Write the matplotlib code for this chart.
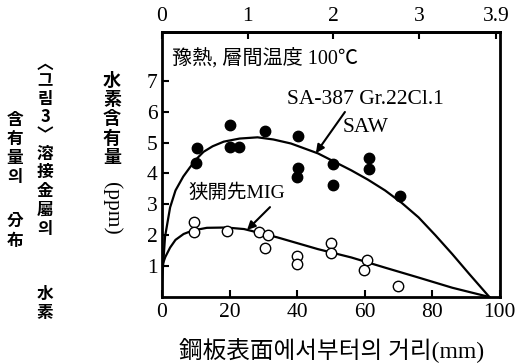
import matplotlib
matplotlib.use("Agg")
import matplotlib.pyplot as plt

# ---------------- data ----------------
saw_x = [10.4, 10.1, 20.0, 20.0, 22.8, 30.5, 40.4, 40.2, 39.9, 50.6, 50.6, 61.3, 61.3, 70.5]
saw_y = [4.81, 4.34, 5.57, 4.86, 4.86, 5.38, 5.21, 4.18, 3.89, 4.30, 3.62, 4.50, 4.13, 3.26]

mig_x = [9.6, 9.6, 19.3, 28.6, 31.5, 30.5, 39.9, 39.9, 50.1, 50.1, 60.6, 59.8, 70.0]
mig_y = [2.42, 2.09, 2.15, 2.09, 2.01, 1.59, 1.34, 1.06, 1.74, 1.42, 1.19, 0.87, 0.34]

saw_curve_x = [0, 0.9, 2.4, 4.0, 6.3, 8.3, 10.5, 12.3, 15.0, 18.3, 23.0, 28.3, 33.0, 38.2,
               46.2, 56.1, 61.0, 66.1, 71.0, 76.0, 81.0, 86.0, 91.0, 97.0]
saw_curve_y = [0.5, 1.95, 2.9, 3.45, 3.9, 4.2, 4.5, 4.7, 4.88, 5.03, 5.13, 5.17, 5.1, 4.97,
               4.65, 4.1, 3.8, 3.45, 3.05, 2.58, 2.0, 1.39, 0.75, 0.0]

mig_curve_x = [0, 1.0, 2.4, 4.0, 6.4, 9.0, 13.3, 19.0, 24.3, 34.2, 46.2, 56.1, 66.1, 76.0, 86.0, 97.0]
mig_curve_y = [1.0, 1.3, 1.6, 1.85, 2.04, 2.15, 2.24, 2.25, 2.2, 1.93, 1.55, 1.28, 0.95, 0.63, 0.3, 0.0]

x_ticks = [0, 20, 40, 60, 80, 100]
y_ticks = [1, 2, 3, 4, 5, 6, 7]
top_ticks_in = [0, 1, 2, 3, 3.9]
top_tick_labels = ["0", "1", "2", "3", "3.9"]

SERIF = ["Liberation Serif", "Noto Sans CJK KR"]
CJK = ["Noto Sans CJK KR", "DejaVu Sans"]

W, H = 519, 364
fig = plt.figure(figsize=(W / 100, H / 100), dpi=100)
ax = fig.add_axes([162 / W, (H - 297) / H, (499.5 - 162) / W, (297 - 32) / H])
ax.set_xlim(0, 100)
ax.set_ylim(0, 8.58)

for s in ax.spines.values():
    s.set_linewidth(2.0)
    s.set_color("black")

ax.set_xticks(x_ticks)
ax.set_xticklabels([str(v) for v in x_ticks], family=SERIF, fontsize=15.5)
ax.set_yticks(y_ticks)
ax.set_yticklabels([str(v) for v in y_ticks], family=SERIF, fontsize=15.5)
ax.tick_params(axis="both", direction="in", length=5, width=1.5, colors="black")
ax.tick_params(axis="x", pad=4)
ax.tick_params(axis="y", pad=3)

sec = ax.secondary_xaxis("top", functions=(lambda v: v / 25.4, lambda v: v * 25.4))
sec.set_xticks(top_ticks_in)
sec.set_xticklabels(top_tick_labels, family=SERIF, fontsize=15.5)
sec.tick_params(direction="in", length=5, width=1.5, pad=4)
sec.spines["top"].set_linewidth(2.0)

# curves
ax.plot(saw_curve_x, saw_curve_y, color="black", lw=1.6, zorder=2)
ax.plot(mig_curve_x, mig_curve_y, color="black", lw=1.6, zorder=2)

# points
ax.plot(saw_x, saw_y, "o", color="black", ms=7.5, zorder=3, clip_on=False)
ax.plot(mig_x, mig_y, "o", mfc="white", mec="black", mew=1.0, ms=7.5, zorder=3)

# annotations
ax.text(3.0, 7.73, "豫熱, 層間温度 100℃", family=SERIF, fontsize=14.5, va="center", ha="left")
ax.text(37.0, 6.38, "SA-387 Gr.22Cl.1", family=SERIF, fontsize=15.5, va="center", ha="left")
ax.text(53.5, 5.50, "SAW", family=SERIF, fontsize=15.5, va="center", ha="left")
ax.text(7.7, 3.37, "狭開先MIG", family=SERIF, fontsize=14, va="center", ha="left")

ax.annotate("", xy=(45.6, 4.66), xytext=(54.2, 5.99),
            arrowprops=dict(arrowstyle="-|>", color="black", lw=1.5, mutation_scale=12,
                            shrinkA=0, shrinkB=0))
ax.annotate("", xy=(25.2, 2.17), xytext=(32.0, 2.91),
            arrowprops=dict(arrowstyle="-|>", color="black", lw=1.5, mutation_scale=12,
                            shrinkA=0, shrinkB=0))

# figure-pixel helper
def ftext(x, y, s, **kw):
    fig.text(x / W, 1 - y / H, s, ha="center", va="center", **kw)

# x label
ftext(332, 350, "鋼板表面에서부터의 거리(mm)", family=SERIF, fontsize=17)

# y label (vertical)
ylab_chars = "水素含有量"
ylab_pos = [80, 99.5, 119, 138.5, 158]
for c, y in zip(ylab_chars, ylab_pos):
    ftext(112, y, c, family=CJK, fontsize=13, fontweight="bold")
ftext(112, 208, "(ppm)", family=SERIF, fontsize=15.5, rotation=-90)

# caption columns (vertical)
col1 = ["︿", "그", "림", "3", "﹀", "溶", "接", "金", "屬", "의", "水", "素"]
col1_y = [64, 81.5, 99.5, 117.5, 135, 153.5, 172, 191, 210, 229, 294, 313]
for c, y in zip(col1, col1_y):
    ftext(45, y, c, family=CJK, fontsize=12, fontweight="bold")

col2 = ["含", "有", "量", "의", "分", "布"]
col2_y = [120, 139, 158, 177, 221, 241]
for c, y in zip(col2, col2_y):
    ftext(15, y, c, family=CJK, fontsize=12, fontweight="bold")

fig.savefig("out.png", dpi=100)
